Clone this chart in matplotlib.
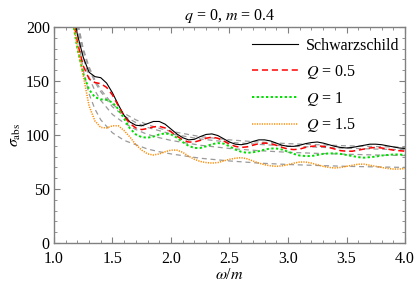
import matplotlib
matplotlib.use('Agg')
import matplotlib.pyplot as plt
import numpy as np
from matplotlib.ticker import MultipleLocator

plt.rcParams['font.family'] = ['Liberation Serif', 'DejaVu Serif']
plt.rcParams['mathtext.fontset'] = 'stix'

# omega/m grid of the read-off points
w = np.arange(1.15, 4.001, 0.05)

schw = [225, 193, 172, 158, 154, 153, 148, 139, 128, 118, 112, 109, 108.5, 110.5,
        112.5, 112.5, 110, 105.5, 101, 97.5, 95.5, 96, 98.5, 100.5, 101, 99.5, 96.5,
        93.5, 91.5, 91, 92, 94, 95.5, 95.5, 94.5, 92.5, 90.5, 89.5, 89.5, 90.5, 92,
        93, 93.5, 92.5, 91, 89.5, 88.5, 88, 88.5, 89.5, 90.5, 91.5, 91.5, 91, 90,
        89, 88, 87.5]
q05 = [218, 186, 164, 152, 148.5, 147.5, 144, 137, 127, 117, 110.5, 106.5, 105, 106,
       107.5, 108, 106.5, 103, 99, 95.5, 93.5, 93.5, 95, 97, 98, 97, 94.5, 91.5,
       89.5, 88.5, 89, 90.5, 92, 92.5, 92, 90.5, 88.5, 87, 86.5, 87, 88.5, 89.5, 90,
       89.5, 88.5, 87, 85.5, 85, 85, 86, 87, 88, 88.5, 88, 87, 86, 85.5, 85]
q10 = [212, 180, 157, 142, 135, 133, 132.5, 130, 124, 115, 106, 100.5, 98, 97.5,
       98.5, 100.5, 101.5, 100.5, 97.5, 93.5, 90, 88, 88, 89.5, 91.5, 92.5, 92, 89.5,
       86.5, 84.5, 83.5, 84, 85, 86.5, 87.5, 87.5, 86.5, 84.5, 82.5, 81, 80.5, 80.5,
       81.5, 82.5, 83, 83, 82.5, 81.5, 80.5, 79.5, 79, 79.5, 80, 81, 81.5, 82, 82,
       81.5]
q15 = [215, 182, 155, 127, 113, 107, 106.5, 108.5, 108.5, 104, 98, 91, 86, 82.5,
       81.5, 82.5, 84.5, 86, 86, 84, 80.5, 77.5, 75.5, 74.5, 74, 74.5, 76, 77.5, 78.5,
       79, 78, 76, 74, 72.5, 71.5, 71, 71.5, 72.5, 74, 75, 75, 74, 72.5, 71, 70, 69.5,
       70, 71, 72, 73, 73, 72, 71, 70, 69, 68.5, 68.5, 69]

# classical (gray dashed) curves
wg = [1.15, 1.2, 1.25, 1.3, 1.35, 1.4, 1.5, 1.6, 1.7, 1.8, 1.9, 2.0, 2.25, 2.5,
      2.75, 3.0, 3.25, 3.5, 3.75, 4.0]
g_schw = [240, 206, 180, 163, 151, 142, 128.5, 120, 114, 109.5, 106.2, 103.4, 98.5,
          95.5, 93.5, 92, 91, 90, 89.3, 88.6]
g_q05 = [240, 204, 178, 161, 149, 140, 126, 117.5, 111.5, 107, 104, 101, 96.3, 93.3,
         91.3, 89.8, 88.7, 87.8, 87, 86.4]
g_q10 = [240, 200, 172, 153, 141, 132, 119, 111, 105, 100.5, 97.5, 95, 90.5, 87.5,
         85.5, 84, 83, 82.2, 81.5, 81]
g_q15 = [240, 195, 160, 138, 124, 114, 102, 95, 91, 87, 84.5, 82.5, 78.5, 76, 74,
         72.7, 71.8, 71, 70.5, 70]

fig = plt.figure(figsize=(4.15, 2.86), dpi=100)
ax = fig.add_axes([0.130, 0.150, 0.846, 0.756])

for g in [g_schw, g_q05, g_q10, g_q15]:
    ax.plot(wg, g, color='#9a9a9a', lw=0.9, dashes=(4, 3))

ax.plot(w, schw, color='black', lw=0.8, label='Schwarzschild')
ax.plot(w, q05, color='#ff0000', lw=1.1, dashes=(4, 2.5), label=r'$Q$ = 0.5')
ax.plot(w, q10, color='#00e000', lw=1.4, dashes=(1.2, 1.2), label=r'$Q$ = 1')
ax.plot(w, q15, color='#ff8c00', lw=1.1, dashes=(0.8, 0.8), label=r'$Q$ = 1.5')

ax.set_xlim(1.0, 4.0)
ax.set_ylim(0, 200)
ax.xaxis.set_major_locator(MultipleLocator(0.5))
ax.xaxis.set_minor_locator(MultipleLocator(0.1))
ax.yaxis.set_major_locator(MultipleLocator(50))
ax.yaxis.set_minor_locator(MultipleLocator(10))
ax.xaxis.set_major_formatter(matplotlib.ticker.FormatStrFormatter('%.1f'))
ax.tick_params(which='both', direction='in', top=True, right=True,
               color='#808080', labelsize=11.5)
ax.tick_params(axis='x', which='major', pad=6)
ax.tick_params(axis='y', which='major', pad=3)
ax.tick_params(which='major', length=4, width=0.8)
ax.tick_params(which='minor', length=2, width=0.6)
for s in ax.spines.values():
    s.set_color('#808080')
    s.set_linewidth(1.0)

ax.set_title(r'$q$ = 0, $m$ = 0.4', fontsize=11.5, pad=5)
ax.set_xlabel(r'$\omega$/$m$', fontsize=11.5, labelpad=0)
ax.set_ylabel(r'$\sigma_{\rm abs}$', fontsize=11.5, labelpad=2)

ax.legend(loc='upper right', bbox_to_anchor=(1.015, 1.0), frameon=False,
          fontsize=11.5, handlelength=2.9, handletextpad=0.45,
          labelspacing=0.55, borderaxespad=0.3)

fig.savefig('out.png', dpi=100)
